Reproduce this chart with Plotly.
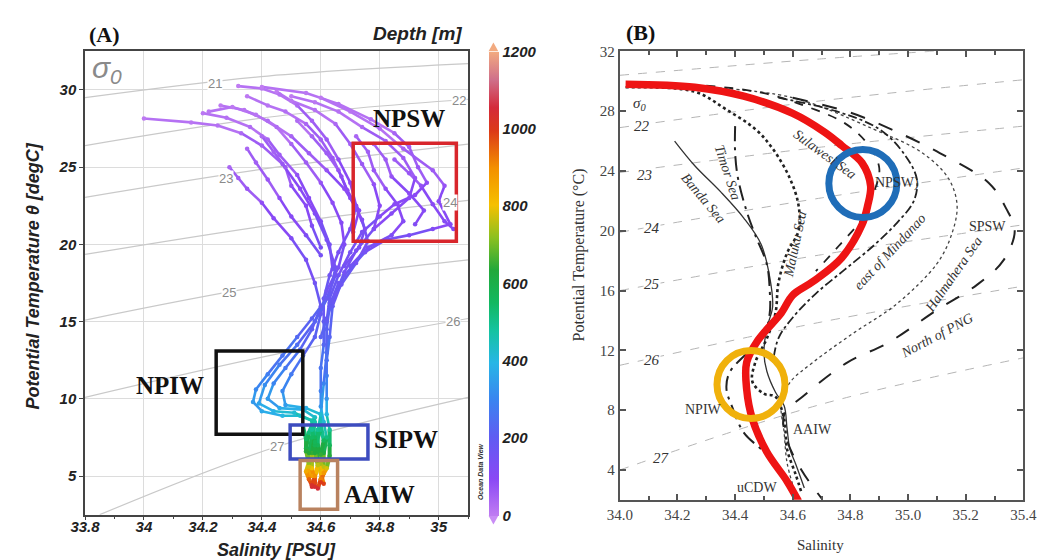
import plotly.graph_objects as go
from plotly.colors import sample_colorscale

W, H = 1051, 560

# ---------------- Panel A data: T-S profiles (salinity, temperature, depth) ----------------
PROFILE_SAL = [
    [34.00,34.16,34.25,34.33,34.40,34.47,34.53,34.58,34.62,34.65,34.63,34.58,34.52,34.46,34.41,34.39,34.44,34.51,34.57,34.58,34.57,34.57,34.58],
    [34.32,34.40,34.46,34.52,34.57,34.62,34.66,34.70,34.72,34.70,34.66,34.63,34.61,34.61,34.61,34.60,34.60,34.60,34.61,34.62,34.61,34.61,34.60],
    [34.40,34.55,34.66,34.77,34.85,34.90,34.93,34.96,34.92,34.85,34.80,34.74,34.70,34.66,34.63,34.62,34.62,34.61,34.60,34.59,34.59,34.60,34.58,34.57],
    [34.60,34.70,34.80,34.88,34.98,35.02,35.00,35.04,34.98,34.90,34.82,34.75,34.68,34.64,34.63,34.62],
    [34.29,34.32,34.35,34.40,34.44,34.50,34.55,34.58,34.60,34.57,34.53,34.48,34.44,34.42,34.46,34.54,34.58,34.56,34.55,34.56,34.57],
    [34.22,34.30,34.38,34.45,34.50,34.55,34.60,34.64,34.67,34.68,34.66,34.62,34.60,34.58,34.54,34.50,34.47,34.48,34.55,34.60,34.60,34.58,34.59,34.60,34.61],
    [34.45,34.50,34.58,34.65,34.70,34.74,34.78,34.80,34.78,34.72,34.68,34.65,34.62,34.60],
    [34.72,34.76,34.78,34.82,34.86,34.88,34.84,34.76,34.70],
    [34.85,34.90,34.94,34.98,35.02,35.05],
    [34.20,34.28,34.36,34.42,34.46,34.52,34.56,34.60,34.63,34.64],
    [34.35,34.42,34.48,34.55,34.60,34.64,34.67,34.70,34.74,34.76,34.72,34.67,34.63],
    [34.65,34.62,34.57,34.52,34.47,34.42,34.38,34.37,34.40,34.47,34.53,34.58,34.57,34.56,34.56,34.56],
    [34.66,34.63,34.62,34.62,34.62,34.62,34.62,34.63,34.63,34.63,34.62,34.60,34.59],
    [34.40,34.44,34.48,34.50,34.55,34.57,34.60],
    [34.52,34.57,34.62,34.66,34.69,34.73,34.71],
    [34.78,34.82,34.84,34.90,34.95,34.92],
    [34.54,34.55,34.55,34.56,34.55,34.56,34.57],
    [34.60,34.61,34.60,34.60,34.61,34.60],
    [34.26,34.34,34.42,34.50,34.56,34.62,34.68,34.72,34.75,34.73,34.68],
    [34.50,34.58,34.66,34.74,34.82,34.88,34.92,34.90,34.84,34.78],
    [34.35,34.38,34.42,34.46,34.50,34.55,34.60],
    [34.57,34.58,34.58,34.59,34.58,34.58],
]
PROFILE_TEMP = [
    [28.15,27.9,27.7,27.2,26.4,25.2,23.6,22.0,20.3,18.5,16.8,15.0,13.5,12.2,10.9,9.7,9.2,9.1,8.6,7.5,6.5,5.5,4.6],
    [30.25,30.1,29.7,29.0,28.0,26.8,25.5,24.0,22.5,21.0,19.5,18.0,16.5,15.0,13.5,12.0,10.5,9.5,8.5,7.5,6.5,5.6,4.8],
    [30.2,29.8,29.1,28.1,27.2,26.3,25.0,24.0,23.2,22.6,21.8,20.8,19.5,18.0,16.5,15.0,13.0,11.0,9.0,8.0,7.0,6.0,5.0,4.3],
    [29.5,28.6,27.5,26.2,24.8,23.8,22.8,21.3,21.0,20.6,20.3,19.5,18.0,16.0,14.0,12.5],
    [25.0,24.3,23.6,22.7,21.7,20.4,19.0,17.5,16.0,14.5,13.2,12.0,11.0,10.0,9.4,9.3,8.8,7.8,6.8,5.8,5.0],
    [28.6,28.9,28.4,27.6,26.5,25.3,24.0,22.7,21.4,20.0,18.5,17.0,15.5,14.0,12.8,11.6,10.5,9.6,9.4,9.0,8.0,7.0,6.0,5.2,4.5],
    [29.9,29.3,28.7,27.8,26.5,25.2,23.9,22.5,21.0,19.6,18.2,16.8,15.2,14.0],
    [27.0,26.0,24.8,23.6,22.6,21.5,20.6,19.8,18.6],
    [25.5,24.6,23.8,22.6,21.5,21.0],
    [28.5,28.2,27.6,26.8,25.8,24.5,23.0,21.5,20.0,18.4],
    [29.6,29.0,28.6,27.8,26.8,25.6,24.4,23.0,21.6,20.2,18.8,17.4,16.2],
    [18.0,16.5,15.2,14.0,12.8,11.6,10.6,9.8,9.2,8.9,8.9,8.5,7.5,6.5,5.6,4.9],
    [17.5,16.0,14.5,13.0,11.5,10.0,9.0,8.0,7.0,6.3,5.5,4.8,4.2],
    [27.0,26.0,25.0,23.8,22.5,21.2,19.8],
    [28.0,27.0,25.9,24.8,23.5,22.2,20.8],
    [26.5,25.5,24.4,23.3,22.2,21.3],
    [8.2,7.4,6.6,5.9,5.3,4.8,4.4],
    [8.3,7.3,6.4,5.8,5.2,4.6],
    [29.0,28.7,28.0,27.0,25.9,24.8,23.6,22.4,21.0,19.8,18.6],
    [29.6,29.2,28.6,27.6,26.7,25.6,24.3,23.0,22.0,21.0],
    [26.2,25.3,24.2,23.0,21.8,20.6,19.3],
    [8.0,7.2,6.5,5.7,5.0,4.3],
]
PROFILE_DEPTH = [
    [5,10,20,35,50,70,95,115,140,160,190,220,250,280,320,360,390,420,470,560,650,800,980],
    [0,10,20,35,50,65,80,95,110,125,140,160,185,205,230,260,290,330,420,520,620,760,900],
    [0,10,20,30,45,55,70,85,95,105,120,135,150,165,185,205,240,300,400,490,570,680,880,1050],
    [5,15,30,45,60,75,90,105,115,125,135,150,170,195,225,255],
    [40,55,70,85,100,120,140,160,185,210,240,270,300,340,370,400,440,520,600,720,870],
    [10,5,15,30,45,60,75,90,105,120,140,165,190,215,245,275,305,345,380,420,500,580,690,830,990],
    [0,10,20,35,50,65,80,95,110,130,150,170,195,220],
    [40,55,70,85,95,110,125,140,160],
    [60,70,80,95,110,120],
    [10,20,30,45,60,80,100,120,140,160],
    [5,15,25,40,55,70,85,100,115,130,150,170,190],
    [165,190,215,235,260,285,310,340,370,400,430,470,550,640,780,900],
    [170,195,220,250,285,330,400,490,570,640,780,920,1050],
    [35,50,65,80,100,120,140],
    [30,45,60,75,90,105,125],
    [45,60,75,90,105,115],
    [480,560,640,720,850,950,1030],
    [470,560,650,740,880,1000],
    [5,15,30,45,60,75,90,105,120,135,155],
    [0,10,20,35,50,60,75,90,105,120],
    [40,55,70,85,105,125,145],
    [490,570,630,760,900,1040],
]

# isopycnals (panel A)
ISO_A_LABELS = ["21", "22", "23", "24", "25", "26", "27"]
ISO_A_SAL = [[33.8, 34.42, 35.1], [33.8, 34.45, 35.1], [33.8, 34.45, 35.1], [33.8, 34.45, 35.1],
             [33.8, 34.45, 35.1], [33.8, 34.45, 35.1], [33.85, 34.45, 35.1]]
ISO_A_TEMP = [[29.5, 30.9, 31.7], [26.4, 28.3, 29.4], [23.05, 25.0, 26.5], [19.35, 21.3, 22.85],
              [15.1, 17.45, 19.0], [10.1, 12.9, 15.2], [2.5, 6.9, 10.1]]
ISO_A_LABEL_SAL = [34.24, 35.07, 34.28, 35.04, 34.29, 35.05, 34.45]
ISO_A_LABEL_TEMP = [30.45, 29.3, 24.3, 22.7, 16.9, 15.0, 6.9]

# water mass boxes (panel A)
BOX_NAMES = ["NPSW", "NPIW", "SIPW", "AAIW"]
BOX_S0 = [34.71, 34.245, 34.496, 34.53]
BOX_S1 = [35.06, 34.539, 34.76, 34.657]
BOX_T0 = [20.2, 7.7, 6.1, 2.85]
BOX_T1 = [26.55, 13.1, 8.3, 6.0]
BOX_COLORS = ["#d8262c", "#111111", "#3d4cbf", "#b9825f"]
BOX_LABEL_S = [34.898, 34.09, 34.888, 34.80]
BOX_LABEL_T = [28.15, 10.87, 7.36, 3.79]

# ---------------- Panel B data ----------------
RED_S = [34.02, 34.26, 34.43, 34.60, 34.71, 34.77, 34.84, 34.87, 34.86, 34.84, 34.77, 34.67, 34.60, 34.56, 34.48, 34.44, 34.44, 34.46, 34.51, 34.58, 34.62]
RED_T = [29.8, 29.6, 29.0, 27.85, 26.6, 25.7, 24.55, 23.0, 21.7, 20.4, 18.2, 16.6, 15.7, 14.5, 12.7, 11.2, 9.4, 7.4, 5.2, 3.25, 1.9]

BANDA_S = [34.19, 34.26, 34.35, 34.43, 34.49, 34.52, 34.53, 34.51, 34.50, 34.51, 34.54, 34.57, 34.58, 34.59, 34.61, 34.64]
BANDA_T = [26.0, 24.35, 22.6, 20.85, 19.1, 16.9, 14.9, 13.5, 11.8, 10.6, 9.2, 8.3, 6.8, 5.4, 4.4, 2.8]
TIMOR_S = [34.40, 34.40, 34.41, 34.44, 34.47, 34.51, 34.52, 34.52, 34.50, 34.44, 34.38, 34.37, 34.39, 34.43, 34.49, 34.54]
TIMOR_T = [27.0, 25.2, 23.5, 21.3, 19.7, 17.75, 16.0, 14.5, 13.0, 11.8, 10.5, 9.4, 8.2, 6.5, 5.4, 4.5]
MALUKU_S = [34.02, 34.26, 34.37, 34.47, 34.53, 34.59, 34.62, 34.62, 34.58, 34.55, 34.54, 34.51, 34.47, 34.46, 34.50, 34.54, 34.57, 34.58, 34.61, 34.63]
MALUKU_T = [29.6, 29.3, 28.1, 26.8, 25.5, 23.5, 21.7, 20.0, 18.5, 16.5, 14.5, 12.8, 11.2, 9.9, 9.1, 8.9, 7.4, 5.4, 3.7, 2.5]
HALMA_S = [34.30, 34.60, 34.88, 35.05, 35.14, 35.17, 35.15, 35.10, 34.96, 34.81, 34.67, 34.59, 34.56, 34.57, 34.58, 34.60]
HALMA_T = [29.6, 28.9, 26.8, 25.2, 23.5, 21.7, 19.7, 17.8, 15.1, 13.15, 11.2, 9.85, 8.5, 6.5, 4.5, 3.0]
SULAW_S = [34.05, 34.30, 34.50, 34.65, 34.78, 34.86, 34.90, 34.88, 34.84, 34.76, 34.68]
SULAW_T = [29.8, 29.7, 29.2, 28.3, 27.2, 25.8, 24.2, 22.5, 20.8, 19.0, 17.3]
MINDA_S = [34.55, 34.75, 34.90, 34.98, 35.03, 35.02, 34.96, 34.88, 34.78, 34.68, 34.60, 34.55, 34.53]
MINDA_T = [28.9, 28.0, 26.8, 25.3, 23.5, 22.0, 20.5, 19.0, 17.4, 15.8, 14.2, 12.8, 11.0]
PNG_S = [34.60, 34.80, 34.94, 35.11, 35.28, 35.34, 35.37, 35.33, 35.24, 35.10, 34.93, 34.79, 34.64, 34.57, 34.58, 34.63, 34.70]
PNG_T = [28.9, 27.9, 26.8, 25.2, 23.2, 21.5, 20.0, 18.0, 16.4, 14.7, 12.5, 11.2, 9.0, 7.7, 6.0, 4.0, 2.1]

ISO_B_LABELS = ["22", "23", "24", "25", "26", "27"]
ISO_B_SAL = [34.0, 34.7, 35.4]
ISO_B_TEMP = [[30.4, 31.5, 32.4], [26.9, 28.7, 30.1], [23.9, 25.6, 27.0], [19.9, 22.2, 24.2],
              [16.0, 18.4, 20.4], [11.0, 13.9, 16.3], [4.0, 8.4, 11.5]]
ISO_B_LABEL_S = [34.078, 34.084, 34.111, 34.111, 34.111, 34.145]
ISO_B_LABEL_T = [27.0, 23.7, 20.2, 16.44, 11.37, 4.78]

CIRCLE_S = [34.843, 34.455]
CIRCLE_T = [23.17, 9.72]
CIRCLE_COLORS = ["#1f6db8", "#f0b10c"]

B_TEXT = ["Timor Sea", "Banda Sea", "Maluku Sea", "Sulawesi Sea", "NPSW)", "east of Mindanao",
          "Halmahera Sea", "SPSW", "North of PNG", "NPIW", "AAIW", "uCDW"]
B_TEXT_S = [34.374, 34.287, 34.607, 34.712, 34.96, 34.938, 35.157, 35.275, 35.10, 34.29, 34.668, 34.476]
B_TEXT_T = [23.9, 22.2, 19.1, 25.1, 23.2, 18.6, 17.1, 20.27, 13.0, 8.07, 6.69, 2.8]
B_TEXT_ANGLE = [72, 50, -78, 36, 0, -47, -55, 0, -28, 0, 0, 0]
B_TEXT_ITALIC = [True, True, True, True, False, True, True, False, True, False, False, False]

DEPTH_SCALE = [[0.0, '#c07cf2'], [0.08, '#8a48f5'], [0.17, '#5f5cf2'], [0.25, '#3a84f0'],
               [0.33, '#27b6e6'], [0.40, '#14c3a0'], [0.46, '#12b860'], [0.53, '#22a83a'],
               [0.60, '#8cc020'], [0.67, '#f5c000'], [0.75, '#f39000'], [0.83, '#dc3a18'],
               [0.88, '#d42a3a'], [0.94, '#cf6f8a'], [1.0, '#f2aa80']]

SANS = "Liberation Sans, Arial, sans-serif"
SERIF = "Liberation Serif, Times New Roman, serif"

fig = go.Figure()

# ---- Panel A isopycnals
for s, t in zip(ISO_A_SAL, ISO_A_TEMP):
    fig.add_trace(go.Scatter(x=s, y=t, mode="lines", line=dict(color="#c9c9c9", width=1.2, shape="spline"),
                             xaxis="x", yaxis="y", hoverinfo="skip", showlegend=False))

# ---- Panel A profile segments coloured by depth
NB = 30
seg = {b: ([], []) for b in range(NB)}
for S, T, D in zip(PROFILE_SAL, PROFILE_TEMP, PROFILE_DEPTH):
    for k in range(len(S) - 1):
        d = (D[k] + D[k + 1]) / 2
        b = min(int(d / 1200 * NB), NB - 1)
        seg[b][0].extend([S[k], S[k + 1], None])
        seg[b][1].extend([T[k], T[k + 1], None])
for b in range(NB):
    xs, ys = seg[b]
    if xs:
        col = sample_colorscale(DEPTH_SCALE, [(b + 0.5) / NB])[0]
        wid = 2.6 if b < 12 else 4.0
        fig.add_trace(go.Scatter(x=xs, y=ys, mode="lines", line=dict(color=col, width=wid),
                                 xaxis="x", yaxis="y", hoverinfo="skip", showlegend=False))

allS = [v for p in PROFILE_SAL for v in p]
allT = [v for p in PROFILE_TEMP for v in p]
allD = [v for p in PROFILE_DEPTH for v in p]
CB_LEFT, CB_THICK, CB_TOP, CB_BOT = 487, 10, 44, 515
fig.add_trace(go.Scatter(
    x=allS, y=allT, mode="markers", xaxis="x", yaxis="y", showlegend=False,
    marker=dict(size=4.5, color=allD, colorscale=DEPTH_SCALE, cmin=0, cmax=1200,
                colorbar=dict(x=CB_LEFT / W, xanchor="left", y=1 - (CB_TOP + CB_BOT) / 2 / H, yanchor="middle",
                              len=(CB_BOT - CB_TOP) / H, lenmode="fraction", thickness=CB_THICK,
                              xpad=0, ypad=0, outlinewidth=0, ticks="",
                              tickvals=[0, 200, 400, 600, 800, 1000, 1200],
                              tickfont=dict(family=SANS, size=15, color="#222", weight="bold", style="italic")))))

# ---- Panel B isopycnals
for t in ISO_B_TEMP:
    fig.add_trace(go.Scatter(x=ISO_B_SAL, y=t, mode="lines",
                             line=dict(color="#b5b5b5", width=1, dash="dash", shape="spline"),
                             xaxis="x2", yaxis="y2", hoverinfo="skip", showlegend=False))

def bline(s, t, width, dash, color="#222"):
    fig.add_trace(go.Scatter(x=s, y=t, mode="lines", line=dict(color=color, width=width, dash=dash, shape="spline"),
                             xaxis="x2", yaxis="y2", hoverinfo="skip", showlegend=False))

bline(BANDA_S, BANDA_T, 1.3, "solid", "#333")
bline(TIMOR_S, TIMOR_T, 2.0, "longdashdot")
bline(MALUKU_S, MALUKU_T, 2.6, "dot")
bline(HALMA_S, HALMA_T, 1.3, "dot", "#444")
bline(SULAW_S, SULAW_T, 1.8, "dash")
bline(MINDA_S, MINDA_T, 1.8, "dashdot")
bline(PNG_S, PNG_T, 2.0, "longdash")
bline(RED_S, RED_T, 7.5, "solid", "#ee1414")

shapes = []
for s0, s1, t0, t1, c in zip(BOX_S0, BOX_S1, BOX_T0, BOX_T1, BOX_COLORS):
    shapes.append(dict(type="rect", xref="x", yref="y", x0=s0, x1=s1, y0=t0, y1=t1,
                       line=dict(color=c, width=3.5)))
R = 34
for s, t, c in zip(CIRCLE_S, CIRCLE_T, CIRCLE_COLORS):
    shapes.append(dict(type="circle", xref="x2", yref="y2", xsizemode="pixel", ysizemode="pixel",
                       xanchor=s, yanchor=t, x0=-R, x1=R, y0=-R, y1=R, line=dict(color=c, width=7)))

# colorbar end triangles
xl, xr = CB_LEFT / W, (CB_LEFT + CB_THICK) / W
xm = (xl + xr) / 2
shapes.append(dict(type="path", xref="paper", yref="paper",
                   path=f"M {xl} {1 - CB_TOP / H} L {xr} {1 - CB_TOP / H} L {xm} {1 - (CB_TOP - 9) / H} Z",
                   fillcolor="#f2aa80", line=dict(width=0)))
shapes.append(dict(type="path", xref="paper", yref="paper",
                   path=f"M {xl} {1 - CB_BOT / H} L {xr} {1 - CB_BOT / H} L {xm} {1 - (CB_BOT + 9) / H} Z",
                   fillcolor="#c98df5", line=dict(width=0)))

ann = []

def pann(px, py, text, font, angle=0, xanchor="center"):
    ann.append(dict(x=px / W, y=1 - py / H, xref="paper", yref="paper", text=text, showarrow=False,
                    xanchor=xanchor, yanchor="middle", textangle=angle, font=font))

# panel A labels
for lab, s, t in zip(ISO_A_LABELS, ISO_A_LABEL_SAL, ISO_A_LABEL_TEMP):
    ann.append(dict(x=s, y=t, xref="x", yref="y", text=lab, showarrow=False, bgcolor="white", borderpad=0,
                    font=dict(family=SANS, size=13, color="#8a8a8a")))
for lab, s, t in zip(BOX_NAMES, BOX_LABEL_S, BOX_LABEL_T):
    ann.append(dict(x=s, y=t, xref="x", yref="y", text=lab, showarrow=False,
                    font=dict(family=SERIF, size=25, color="#111", weight="bold")))
pann(95, 62, "σ<sub>0</sub>", dict(family=SANS, size=30, color="#8a8a8a", style="italic"))
pann(92, 27, "(A)", dict(family=SERIF, size=22, color="#111", weight="bold"))
pann(462, 26, "Depth [m]", dict(family=SANS, size=19, color="#222", weight="bold", style="italic"), xanchor="right")
pann(269, 550, "Salinity [PSU]", dict(family=SANS, size=18, color="#222", weight="bold", style="italic"))
pann(19, 272, "Potential Temperature θ [degC]",
     dict(family=SANS, size=18, color="#222", weight="bold", style="italic"), angle=-90)
pann(478, 470, "Ocean Data View", dict(family=SANS, size=7, color="#333", weight="bold", style="italic"), angle=-90)

# panel B labels
for lab, s, t in zip(ISO_B_LABELS, ISO_B_LABEL_S, ISO_B_LABEL_T):
    ann.append(dict(x=s, y=t, xref="x2", yref="y2", text=lab, showarrow=False, bgcolor="white", borderpad=0,
                    font=dict(family=SERIF, size=15, color="#333", style="italic")))
ann.append(dict(x=34.067, y=28.5, xref="x2", yref="y2", text="σ<sub>0</sub>", showarrow=False,
                font=dict(family=SERIF, size=15, color="#333", style="italic")))
for lab, s, t, a, it in zip(B_TEXT, B_TEXT_S, B_TEXT_T, B_TEXT_ANGLE, B_TEXT_ITALIC):
    ann.append(dict(x=s, y=t, xref="x2", yref="y2", text=lab, showarrow=False, textangle=a,
                    font=dict(family=SERIF, size=14, color="#333", style="italic" if it else "normal")))
pann(643, 25, "(B)", dict(family=SERIF, size=22, color="#111", weight="bold"))
pann(828, 545, "Salinity", dict(family=SERIF, size=15, color="#333"))
pann(580, 250, "Potential Temperature (°C)", dict(family=SERIF, size=16, color="#333"), angle=-90)

tickA = dict(family=SANS, size=15, color="#222", weight="bold", style="italic")
tickB = dict(family=SERIF, size=15, color="#444")

fig.update_layout(
    width=W, height=H, margin=dict(l=0, r=0, t=0, b=0),
    paper_bgcolor="white", plot_bgcolor="white", showlegend=False,
    xaxis=dict(domain=[72 / W, 466 / W], range=[33.8, 35.1], anchor="y",
               tickvals=[33.8, 34, 34.2, 34.4, 34.6, 34.8, 35],
               showgrid=True, gridcolor="#dcdcdc", gridwidth=1, zeroline=False,
               showline=True, linecolor="#444", linewidth=1.5, mirror=True,
               ticks="outside", ticklen=4, tickcolor="#444", tickfont=tickA, ticklabelstandoff=-6,
               minor=dict(dtick=0.1, ticks="outside", ticklen=3, tickcolor="#444", showgrid=False)),
    yaxis=dict(domain=[1 - 514 / H, 1 - 44 / H], range=[2.5, 32.5], anchor="x",
               tickvals=[5, 10, 15, 20, 25, 30],
               showgrid=True, gridcolor="#dcdcdc", gridwidth=1, zeroline=False,
               showline=True, linecolor="#444", linewidth=1.5, mirror=True,
               ticks="outside", ticklen=4, tickcolor="#444", tickfont=tickA),
    xaxis2=dict(domain=[622 / W, 1037 / W], range=[34.0, 35.4], anchor="y2",
                dtick=0.2, tick0=34.0, tickformat=".1f",
                showgrid=False, zeroline=False, showline=True, linecolor="#555", linewidth=2, mirror="ticks",
                ticks="inside", ticklen=6, tickwidth=1.5, tickcolor="#555", tickfont=tickB,
                minor=dict(dtick=0.1, ticks="inside", ticklen=4, tickcolor="#555")),
    yaxis2=dict(domain=[1 - 499 / H, 1 - 44 / H], range=[2, 32], anchor="x2",
                tickvals=[4, 8, 12, 16, 20, 24, 28, 32],
                showgrid=False, zeroline=False, showline=True, linecolor="#555", linewidth=2, mirror="ticks",
                ticks="inside", ticklen=6, tickwidth=1.5, tickcolor="#555", tickfont=tickB),
    shapes=shapes, annotations=ann,
)

fig.write_html("out.html")
